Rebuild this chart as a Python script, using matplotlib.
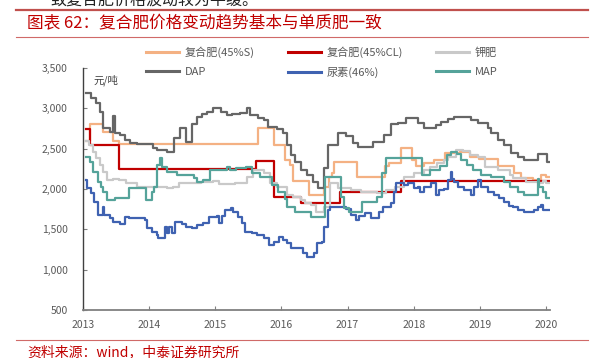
import matplotlib
matplotlib.use("Agg")
import matplotlib.pyplot as plt
from matplotlib.lines import Line2D
from matplotlib.ticker import FuncFormatter

plt.rcParams['font.family'] = ['Noto Sans CJK SC', 'DejaVu Sans']

# ---- data (decimal year, yuan/ton) ----
t_s = [2013.04, 2013.10, 2013.30, 2013.45, 2013.55, 2015.64, 2015.88, 2016.05, 2016.13,
       2016.18, 2016.42, 2016.65, 2016.72, 2016.76, 2016.80, 2017.14, 2017.56, 2017.62,
       2017.80, 2017.98, 2018.03, 2018.15, 2018.30, 2018.48, 2018.70, 2018.85, 2018.98,
       2019.27, 2019.52, 2019.62, 2019.80, 2019.92, 2020.00]
v_s = [2600, 2810, 2710, 2600, 2560, 2760, 2550, 2360, 2300,
       2100, 1920, 2030, 2150, 2200, 2330, 2150, 2280, 2320,
       2510, 2360, 2280, 2320, 2360, 2450, 2460, 2400, 2370,
       2290, 2200, 2140, 2110, 2175, 2150]

t_cl = [2013.04, 2013.10, 2013.55, 2015.62, 2015.88, 2016.30, 2016.89, 2017.80]
v_cl = [2750, 2550, 2250, 2350, 1900, 1830, 1960, 2100]

t_k = [2013.04, 2013.09, 2013.15, 2013.20, 2013.25, 2013.30, 2013.36, 2013.45, 2013.55,
       2013.65, 2013.82, 2014.10, 2014.27, 2014.36, 2014.45, 2014.78, 2014.97, 2015.05,
       2015.30, 2015.48, 2015.57, 2015.73, 2015.83, 2015.94, 2016.08, 2016.18, 2016.29,
       2016.35, 2016.45, 2016.52, 2016.65, 2016.74, 2016.86, 2017.05, 2017.20, 2017.45,
       2017.58, 2017.72, 2017.85, 2018.00, 2018.15, 2018.25, 2018.35, 2018.45, 2018.52,
       2018.64, 2018.75, 2018.85, 2018.97, 2019.07, 2019.27, 2019.45, 2019.50, 2019.70,
       2019.88, 2019.95, 2020.00]
v_k = [2600, 2550, 2460, 2390, 2300, 2210, 2110, 2120, 2110,
       2075, 2030, 2030, 2015, 2030, 2075, 2090, 2100, 2065,
       2080, 2150, 2240, 2200, 2080, 2030, 1930, 1900, 1865,
       1830, 1800, 1720, 1780, 2075, 2010, 1990, 1965, 1950,
       1990, 2030, 2150, 2200, 2240, 2270, 2320, 2360, 2400,
       2480, 2470, 2420, 2400, 2275, 2240, 2175, 2140, 2090,
       2075, 2100, 2080]

t_dap = [2013.04, 2013.12, 2013.20, 2013.25, 2013.30, 2013.41, 2013.46, 2013.48, 2013.56,
         2013.64, 2013.71, 2013.82, 2014.06, 2014.12, 2014.27, 2014.38, 2014.47, 2014.55,
         2014.65, 2014.73, 2014.80, 2014.88, 2014.97, 2015.08, 2015.18, 2015.25, 2015.38,
         2015.48, 2015.53, 2015.64, 2015.73, 2015.80, 2015.94, 2016.02, 2016.09, 2016.14,
         2016.21, 2016.29, 2016.39, 2016.48, 2016.56, 2016.64, 2016.71, 2016.86, 2016.97,
         2017.08, 2017.15, 2017.38, 2017.55, 2017.65, 2017.76, 2017.88, 2018.06, 2018.15,
         2018.33, 2018.41, 2018.52, 2018.61, 2018.86, 2018.97, 2019.12, 2019.17, 2019.27,
         2019.36, 2019.47, 2019.58, 2019.67, 2019.88, 2020.02]
v_dap = [3190, 3130, 3060, 2960, 2760, 2710, 2900, 2700, 2670,
         2610, 2570, 2555, 2510, 2485, 2460, 2630, 2760, 2580,
         2800, 2895, 2930, 2960, 3005, 2960, 2920, 2935, 2945,
         3005, 2920, 2880, 2850, 2770, 2740, 2700, 2550, 2420,
         2330, 2240, 2175, 2090, 2010, 2260, 2550, 2690, 2660,
         2570, 2520, 2585, 2670, 2810, 2820, 2880, 2820, 2760,
         2795, 2830, 2870, 2895, 2860, 2820, 2760, 2700, 2610,
         2550, 2450, 2400, 2360, 2440, 2330]

t_urea = [2013.04, 2013.06, 2013.12, 2013.17, 2013.22, 2013.29, 2013.30, 2013.31, 2013.41,
          2013.45, 2013.56, 2013.64, 2013.70, 2013.94, 2013.96, 2014.04, 2014.12, 2014.14,
          2014.24, 2014.27, 2014.30, 2014.34, 2014.39, 2014.50, 2014.55, 2014.65, 2014.72,
          2014.82, 2014.90, 2015.03, 2015.05, 2015.10, 2015.15, 2015.23, 2015.27, 2015.35,
          2015.40, 2015.45, 2015.55, 2015.63, 2015.73, 2015.81, 2015.88, 2015.96, 2016.03,
          2016.09, 2016.14, 2016.33, 2016.39, 2016.49, 2016.54, 2016.62, 2016.64, 2016.70,
          2016.74, 2016.97, 2017.05, 2017.12, 2017.17, 2017.27, 2017.35, 2017.47, 2017.53,
          2017.65, 2017.70, 2017.73, 2017.85, 2017.91, 2018.00, 2018.06, 2018.10, 2018.15,
          2018.26, 2018.33, 2018.38, 2018.45, 2018.52, 2018.56, 2018.58, 2018.61, 2018.67,
          2018.76, 2018.86, 2018.91, 2018.97, 2019.02, 2019.12, 2019.21, 2019.29, 2019.36,
          2019.44, 2019.50, 2019.58, 2019.67, 2019.82, 2019.88, 2019.92, 2019.95, 2020.02]
v_urea = [2110, 2015, 1950, 1840, 1680, 1680, 1780, 1680, 1640,
          1590, 1570, 1655, 1640, 1610, 1520, 1470, 1430, 1395,
          1530, 1455, 1530, 1455, 1590, 1570, 1530, 1515, 1555,
          1580, 1655, 1660, 1580, 1660, 1740, 1765, 1715, 1655,
          1580, 1470, 1455, 1430, 1395, 1305, 1345, 1405, 1370,
          1330, 1270, 1210, 1160, 1210, 1330, 1345, 1530, 1740,
          1780, 1750, 1680, 1620, 1660, 1700, 1640, 1715, 1780,
          1830, 1965, 2075, 2050, 2075, 2015, 2025, 1965, 2025,
          2075, 1930, 1990, 2000, 2115, 2210, 2120, 2090, 2025,
          1990, 1930, 2030, 2115, 2030, 1965, 1930, 1890, 1840,
          1790, 1780, 1740, 1720, 1740, 1780, 1805, 1740, 1745]

t_map = [2013.04, 2013.10, 2013.15, 2013.22, 2013.27, 2013.30, 2013.36, 2013.48, 2013.70,
         2013.95, 2014.05, 2014.08, 2014.12, 2014.17, 2014.19, 2014.27, 2014.42, 2014.68,
         2014.73, 2014.82, 2014.92, 2015.12, 2015.17, 2015.22, 2015.32, 2015.47, 2015.55,
         2015.67, 2015.85, 2015.95, 2016.05, 2016.08, 2016.20, 2016.45, 2016.66, 2016.90,
         2016.95, 2017.02, 2017.22, 2017.45, 2017.52, 2017.58, 2018.12, 2018.25, 2018.40,
         2018.50, 2018.57, 2018.66, 2018.72, 2018.80, 2018.90, 2019.02, 2019.17, 2019.36,
         2019.45, 2019.58, 2019.67, 2019.88, 2019.90, 2019.95, 2020.00]
v_map = [2400, 2340, 2210, 2090, 2025, 1965, 1865, 1890, 2015,
         1865, 1960, 2025, 2300, 2380, 2275, 2210, 2175, 2140,
         2090, 2110, 2240, 2240, 2275, 2240, 2260, 2275, 2200,
         2150, 2050, 1960, 1870, 1780, 1710, 1650, 2150, 1900,
         1760, 1720, 1840, 1900, 2200, 2390, 2175, 2240, 2280,
         2420, 2460, 2430, 2360, 2300, 2240, 2175, 2150, 2090,
         2030, 1965, 1930, 2130, 2020, 1960, 1890]

t_end = 2020.05

names = ['复合肥(45%S)', '复合肥(45%CL)', '钾肥', 'DAP', '尿素(46%)', 'MAP']
colors = ['#F4B183', '#C00000', '#C9C9C9', '#666666', '#3F62B1', '#55A39A']
series = [(t_s, v_s), (t_cl, v_cl), (t_k, v_k), (t_dap, v_dap), (t_urea, v_urea), (t_map, v_map)]

fig = plt.figure(figsize=(5.95, 3.58), dpi=100)
ax = fig.add_axes([83 / 595, 1 - 310 / 358, 467 / 595, 242 / 358])

for (t, v), name, c in zip(series, names, colors):
    ax.step(list(t) + [t_end], list(v) + [v[-1]], where='post', color=c, lw=1.6, label=name)

ax.set_xlim(2013, 2020.06)
ax.set_ylim(500, 3500)
ax.set_xticks(range(2013, 2021))
ax.set_yticks(range(500, 3501, 500))
ax.yaxis.set_major_formatter(FuncFormatter(lambda y, _: f'{int(y):,}'))
for s in ['top', 'right']:
    ax.spines[s].set_visible(False)
ax.spines['left'].set_color('#404040')
ax.spines['left'].set_linewidth(1.0)
ax.spines['bottom'].set_color('#808080')
ax.spines['bottom'].set_linewidth(1.3)
ax.tick_params(axis='both', direction='in', length=3, color='#808080', labelcolor='#595959', labelsize=7.5)
ax.tick_params(axis='x', pad=7)
ax.tick_params(axis='y', pad=11)

fig.text(93 / 595, 1 - 80 / 358, '元/吨', fontsize=7.5, color='#404040', va='center')

# legend, ordered so the three columns read row by row
order = [0, 3, 1, 4, 2, 5]
handles = [Line2D([], [], color=colors[i], lw=2.2) for i in order]
fig.legend(handles, [names[i] for i in order], ncol=3, loc='upper left',
           bbox_to_anchor=(146 / 595, 1 - 46 / 358), frameon=False, fontsize=8,
           handlelength=3.0, handletextpad=0.5, columnspacing=2.95, labelspacing=0.85,
           borderpad=0, borderaxespad=0, labelcolor='#595959')

# report frame: red rules, title and source
fig.add_artist(Line2D([16 / 595, 588 / 595], [1 - 10 / 358] * 2, color='#C0504D', lw=1.6))
fig.add_artist(Line2D([16 / 595, 588 / 595], [1 - 37 / 358] * 2, color='#D06A68', lw=0.8))
fig.add_artist(Line2D([16 / 595, 588 / 595], [1 - 340 / 358] * 2, color='#D06A68', lw=0.8))
fig.text(27 / 595, 1 - 24 / 358, '图表 62：复合肥价格变动趋势基本与单质肥一致', fontsize=12,
         color='#C00000', va='center')
fig.text(27 / 595, 1 - 352 / 358, '资料来源：wind，中泰证券研究所', fontsize=10,
         color='#C00000', va='center')
fig.text(50 / 595, 1 - 5 / 358, '致复合肥价格波动较为平缓。', fontsize=11.5, color='#222222',
         va='baseline')

fig.savefig('out.png', dpi=100)
